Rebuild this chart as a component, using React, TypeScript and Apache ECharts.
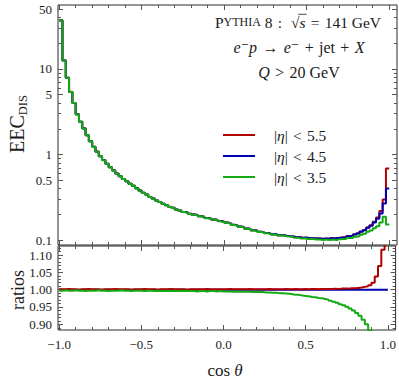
import React, { useEffect, useRef } from "react";
import * as echarts from "echarts";

// ---------------- data ----------------
// Histogram bins in cos(theta): 100 bins of width 0.02 from -1 to 1
const cosThetaEdges: number[] = Array.from({ length: 101 }, (_, i) => Math.round((-1 + i * 0.02) * 100) / 100);

// EEC_DIS for |eta| < 4.5 (blue), one value per bin
const eecEta45: number[] = [
  37.0, 12.6, 7.9, 5.4, 4.0, 2.95, 2.42, 2.02, 1.68, 1.43,
  1.23, 1.08, 0.955, 0.86, 0.78, 0.71, 0.652, 0.598, 0.557, 0.518,
  0.488, 0.455, 0.432, 0.402, 0.38, 0.357, 0.34, 0.319, 0.306, 0.29,
  0.279, 0.265, 0.256, 0.244, 0.238, 0.228, 0.222, 0.213, 0.21, 0.203,
  0.199, 0.196, 0.19, 0.187, 0.181, 0.179, 0.174, 0.172, 0.167, 0.164,
  0.16, 0.157, 0.151, 0.149, 0.144, 0.142, 0.136, 0.135, 0.13, 0.129,
  0.125, 0.124, 0.121, 0.12, 0.117, 0.117, 0.114, 0.114, 0.112, 0.111,
  0.11, 0.108, 0.108, 0.106, 0.107, 0.105, 0.105, 0.104, 0.104, 0.103,
  0.104, 0.103, 0.105, 0.104, 0.106, 0.107, 0.108, 0.111, 0.112, 0.116,
  0.119, 0.125, 0.13, 0.139, 0.147, 0.16, 0.177, 0.205, 0.268, 0.4,
];

// ratio |eta| < 5.5 over |eta| < 4.5 (red)
const ratioEta55: number[] = [
  1.001, 1.001, 1.002, 1.001, 1.001, 1.0, 1.001, 1.001, 1.002, 1.001,
  1.001, 1.001, 1.0, 1.001, 1.001, 1.001, 1.002, 1.001, 1.001, 1.001,
  1.001, 1.0, 1.001, 1.001, 1.001, 1.002, 1.001, 1.001, 1.001, 1.0,
  1.001, 1.001, 1.001, 1.002, 1.001, 1.001, 1.001, 1.001, 1.0, 1.001,
  1.001, 1.001, 1.001, 1.001, 1.002, 1.001, 1.001, 1.001, 1.001, 1.001,
  1.001, 1.002, 1.001, 1.001, 1.001, 1.001, 1.001, 1.002, 1.001, 1.001,
  1.001, 1.001, 1.001, 1.002, 1.001, 1.001, 1.001, 1.001, 1.002, 1.001,
  1.001, 1.002, 1.001, 1.001, 1.002, 1.001, 1.002, 1.002, 1.001, 1.002,
  1.002, 1.002, 1.002, 1.003, 1.002, 1.003, 1.003, 1.003, 1.004, 1.004,
  1.005, 1.006, 1.008, 1.01, 1.013, 1.02, 1.038, 1.068, 1.115, 1.72,
];

// ratio |eta| < 3.5 over |eta| < 4.5 (green)
const ratioEta35: number[] = [
  0.997, 0.998, 0.997, 0.997, 0.998, 0.997, 0.997, 0.996, 0.997, 0.997,
  0.997, 0.998, 0.997, 0.997, 0.996, 0.997, 0.997, 0.997, 0.998, 0.997,
  0.997, 0.996, 0.997, 0.997, 0.997, 0.996, 0.997, 0.997, 0.996, 0.997,
  0.996, 0.997, 0.996, 0.996, 0.997, 0.996, 0.996, 0.997, 0.996, 0.996,
  0.996, 0.995, 0.996, 0.996, 0.995, 0.996, 0.996, 0.995, 0.996, 0.995,
  0.995, 0.995, 0.994, 0.995, 0.994, 0.994, 0.995, 0.994, 0.993, 0.994,
  0.993, 0.993, 0.992, 0.992, 0.991, 0.991, 0.99, 0.99, 0.989, 0.988,
  0.987, 0.985, 0.985, 0.983, 0.982, 0.981, 0.979, 0.978, 0.976, 0.975,
  0.973, 0.971, 0.968, 0.965, 0.962, 0.958, 0.955, 0.951, 0.946, 0.94,
  0.933, 0.925, 0.913, 0.9, 0.882, 0.86, 0.82, 0.78, 0.7, 0.38,
];

// tick values
const xMajorTicks = [-1, -0.5, 0, 0.5, 1];
const xMinorTicks = [-0.9, -0.8, -0.7, -0.6, -0.4, -0.3, -0.2, -0.1, 0.1, 0.2, 0.3, 0.4, 0.6, 0.7, 0.8, 0.9];
const eecMajorTicks = [0.1, 0.5, 1, 5, 10, 50];
const eecMinorTicks = [0.2, 0.3, 0.4, 0.6, 0.7, 0.8, 0.9, 2, 3, 4, 6, 7, 8, 9, 20, 30, 40];
const ratioMajorTicks = [0.9, 0.95, 1.0, 1.05, 1.1];
const ratioMinorTicks = [0.89, 0.91, 0.92, 0.93, 0.94, 0.96, 0.97, 0.98, 0.99, 1.01, 1.02, 1.03, 1.04, 1.06, 1.07, 1.08, 1.09, 1.11, 1.12];

const NAME55 = "|η| < 5.5";
const NAME45 = "|η| < 4.5";
const NAME35 = "|η| < 3.5";

// ---------------- styling ----------------
const FONT = "'Liberation Serif', 'DejaVu Serif', serif";
const RED = "#b00000";
const BLUE = "#0000b0";
const GREEN = "#14aa14";
const FRAME = "#2a2a2a";
const TICK = "#555555";
const TEXT = "#1a1a1a";
const SP = "\u2004"; // slightly wider space, like TeX math spacing

const X_MIN = -1.007;
const X_MAX = 1.047;

function axisPair(
  gridIndex: number,
  position: string,
  type: string,
  min: number,
  max: number,
  major: number[],
  minor: number[],
  label: any
) {
  const base: any = {
    type,
    gridIndex,
    position,
    min,
    max,
    axisLine: { show: false, onZero: false },
    splitLine: { show: false },
    minorTick: { show: false },
  };
  if (type === "log") base.logBase = 10;
  const majorAxis = {
    ...base,
    axisTick: { show: true, inside: true, length: 5, customValues: major, lineStyle: { color: TICK, width: 1 } },
    axisLabel: label ? { ...label, customValues: major } : { show: false },
  };
  const minorAxis = {
    ...base,
    axisTick: { show: true, inside: true, length: 3, customValues: minor, lineStyle: { color: TICK, width: 1 } },
    axisLabel: { show: false },
  };
  return [majorAxis, minorAxis];
}

const labelBase = { show: true, fontFamily: FONT, fontSize: 13, color: TEXT };

function stepData(vals: number[]) {
  return cosThetaEdges.map((e, i) => [e, vals[Math.min(i, vals.length - 1)]]);
}

function measure(text: string, font: string) {
  const c = document.createElement("canvas").getContext("2d");
  if (!c) return text.length * 7;
  c.font = font;
  return c.measureText(text).width;
}

export default function App() {
  const ref = useRef<HTMLDivElement>(null);
  useEffect(() => {
    if (!ref.current) return;
    const chart = echarts.init(ref.current, undefined, { renderer: "svg" });

    const eecEta55 = eecEta45.map((v, i) => v * ratioEta55[i]);
    const eecEta35 = eecEta45.map((v, i) => v * ratioEta35[i]);
    const ratioEta45 = eecEta45.map((v) => v / v);

    const xLabel = {
      ...labelBase,
      margin: 8,
      formatter: (v: number) => (v < 0 ? "\u2212" : "") + Math.abs(v).toFixed(1),
    };
    const eecLabel = {
      ...labelBase,
      margin: 6,
      formatter: (v: number) => String(Number(Number(v).toPrecision(2))),
    };
    const ratioLabel = {
      ...labelBase,
      margin: 6,
      formatter: (v: number) => Number(v).toFixed(2),
    };

    const Y_TOP = [0.0875, 56];
    const Y_RATIO = [0.8836, 1.126];

    const xAxis = [
      ...axisPair(0, "bottom", "value", X_MIN, X_MAX, xMajorTicks, xMinorTicks, null),
      ...axisPair(0, "top", "value", X_MIN, X_MAX, xMajorTicks, xMinorTicks, null),
      ...axisPair(1, "bottom", "value", X_MIN, X_MAX, xMajorTicks, xMinorTicks, xLabel),
      ...axisPair(1, "top", "value", X_MIN, X_MAX, xMajorTicks, xMinorTicks, null),
    ];
    const yAxis = [
      ...axisPair(0, "left", "log", Y_TOP[0], Y_TOP[1], eecMajorTicks, eecMinorTicks, eecLabel),
      ...axisPair(0, "right", "log", Y_TOP[0], Y_TOP[1], eecMajorTicks, eecMinorTicks, null),
      ...axisPair(1, "left", "value", Y_RATIO[0], Y_RATIO[1], ratioMajorTicks, ratioMinorTicks, ratioLabel),
      ...axisPair(1, "right", "value", Y_RATIO[0], Y_RATIO[1], ratioMajorTicks, ratioMinorTicks, null),
    ];

    const mk = (name: string, vals: number[], color: string, xi: number, yi: number, z: number) => ({
      type: "line",
      name,
      xAxisIndex: xi,
      yAxisIndex: yi,
      data: stepData(vals),
      step: "end",
      symbol: "none",
      showSymbol: false,
      clip: true,
      z,
      lineStyle: { color, width: 2 },
      itemStyle: { color },
      emphasis: { disabled: true },
    });

    // title line 1 pieces (for the overline of the square root)
    const fs1 = 15.5;
    const f1 = `${fs1}px ${FONT}`;
    const f1i = `italic ${fs1}px ${FONT}`;
    const f1s = `12px ${FONT}`;
    const t3 = ` 8${SP}:${SP} √`;
    const t5 = `${SP}=${SP}141 GeV`;
    const pieces: [string, string][] = [
      ["P", f1],
      ["YTHIA", f1s],
      [t3, f1],
      ["s", f1i],
      [t5, f1],
    ];
    const widths = pieces.map(([t, f]) => measure(t, f));
    const total = widths.reduce((a, b) => a + b, 0);
    const left1 = 298 - total / 2;
    const sStart = left1 + widths[0] + widths[1] + widths[2];
    const sqrtW = measure("√", f1);
    const barX1 = sStart - sqrtW * 0.15;
    const barX2 = sStart + widths[3] + 1;

    const option: any = {
      animation: false,
      backgroundColor: "#ffffff",
      textStyle: { fontFamily: FONT },
      grid: [
        { left: 58, top: 5, width: 339, height: 240, show: true, borderColor: FRAME, borderWidth: 1, backgroundColor: "transparent" },
        { left: 58, top: 246, width: 339, height: 84, show: true, borderColor: FRAME, borderWidth: 1, backgroundColor: "transparent" },
      ],
      xAxis,
      yAxis,
      legend: {
        data: [
          { name: NAME55, icon: "rect" },
          { name: NAME45, icon: "rect" },
          { name: NAME35, icon: "rect" },
        ],
        orient: "vertical",
        left: 218,
        top: 121,
        itemWidth: 32,
        itemHeight: 2,
        itemGap: 3,
        selectedMode: false,
        formatter: (name: string) => name.replace("η", "{i|η}").replace(" < ", `${SP}<${SP}`),
        textStyle: {
          fontFamily: FONT,
          fontSize: 15.5,
          lineHeight: 18,
          color: TEXT,
          padding: [0, 0, 0, 14],
          rich: { i: { fontFamily: FONT, fontSize: 15.5, lineHeight: 18, fontStyle: "italic", color: TEXT } },
        },
      },
      series: [
        mk(NAME45, eecEta45, BLUE, 0, 0, 3),
        mk(NAME55, eecEta55, RED, 0, 0, 2),
        mk(NAME35, eecEta35, GREEN, 0, 0, 4),
        mk(NAME45, ratioEta45, BLUE, 4, 4, 3),
        mk(NAME55, ratioEta55, RED, 4, 4, 4),
        mk(NAME35, ratioEta35, GREEN, 4, 4, 5),
      ],
      graphic: [
        {
          type: "text",
          x: left1,
          y: 22,
          style: {
            text: `{n|P}{sc|YTHIA}{n|${t3}}{i|s}{n|${t5}}`,
            align: "left",
            verticalAlign: "middle",
            fill: TEXT,
            rich: {
              n: { fontFamily: FONT, fontSize: fs1, fill: TEXT },
              sc: { fontFamily: FONT, fontSize: 12, fill: TEXT },
              i: { fontFamily: FONT, fontSize: fs1, fontStyle: "italic", fill: TEXT },
            },
          },
        },
        {
          type: "line",
          shape: { x1: barX1, y1: 14.3, x2: barX2, y2: 14.3 },
          style: { stroke: TEXT, lineWidth: 0.8 },
        },
        {
          type: "text",
          x: 299,
          y: 47,
          style: {
            text: `{i|e}{n|⁻}{i|p}{n|${SP}→${SP}}{i|e}{n|⁻${SP}+${SP}jet${SP}+${SP}}{i|X}`,
            align: "center",
            verticalAlign: "middle",
            fill: TEXT,
            rich: {
              n: { fontFamily: FONT, fontSize: 16, fill: TEXT },
              i: { fontFamily: FONT, fontSize: 16, fontStyle: "italic", fill: TEXT },
            },
          },
        },
        {
          type: "text",
          x: 299,
          y: 72,
          style: {
            text: `{i|Q}{n|${SP}>${SP}20 GeV}`,
            align: "center",
            verticalAlign: "middle",
            fill: TEXT,
            rich: {
              n: { fontFamily: FONT, fontSize: 16, fill: TEXT },
              i: { fontFamily: FONT, fontSize: 16, fontStyle: "italic", fill: TEXT },
            },
          },
        },
        {
          type: "text",
          x: 17,
          y: 124,
          rotation: Math.PI / 2,
          style: {
            text: "{a|EEC}{b|DIS}",
            align: "center",
            verticalAlign: "middle",
            fill: TEXT,
            rich: {
              a: { fontFamily: FONT, fontSize: 20, lineHeight: 24, fill: TEXT },
              b: { fontFamily: FONT, fontSize: 12.5, lineHeight: 12, verticalAlign: "bottom", fill: TEXT },
            },
          },
        },
        {
          type: "text",
          x: 18,
          y: 290,
          rotation: Math.PI / 2,
          style: {
            text: "ratios",
            align: "center",
            verticalAlign: "middle",
            fontFamily: FONT,
            fontSize: 18,
            fill: TEXT,
          },
        },
        {
          type: "text",
          x: 225,
          y: 370,
          style: {
            text: "{n|cos }{i|θ}",
            align: "center",
            verticalAlign: "middle",
            fill: TEXT,
            rich: {
              n: { fontFamily: FONT, fontSize: 17, fill: TEXT },
              i: { fontFamily: FONT, fontSize: 17, fontStyle: "italic", fill: TEXT },
            },
          },
        },
      ],
    };

    chart.setOption(option);
    return () => chart.dispose();
  }, []);

  return (
    <div
      ref={ref}
      style={{ position: "fixed", left: 0, top: 0, width: 399, height: 386, background: "#fff" }}
    />
  );
}
